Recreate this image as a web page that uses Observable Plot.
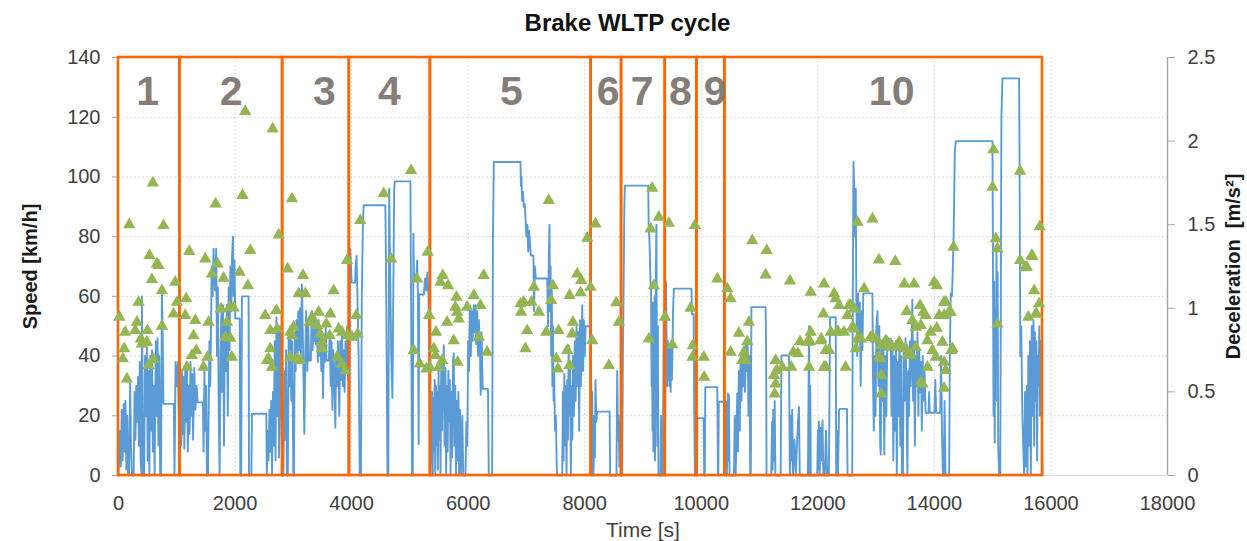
<!DOCTYPE html>
<html><head><meta charset="utf-8">
<script src="https://cdn.jsdelivr.net/npm/d3@7"></script>
<script src="https://cdn.jsdelivr.net/npm/@observablehq/plot@0.6"></script>
<style>
body{margin:0;background:#fff;font-family:"Liberation Sans",Arial,sans-serif;}
#title{height:40px;line-height:46px;text-align:center;font-weight:bold;font-size:24px;color:#111;padding-left:8px;white-space:nowrap;overflow:visible;}
</style></head><body>
<div id="title">Brake WLTP cycle</div>
<div id="chart"></div>
<script>
const timeTicks = [0,2000,4000,6000,8000,10000,12000,14000,16000,18000];
const speedTicks = [0,20,40,60,80,100,120,140];
const decelTicks = [0,0.5,1,1.5,2,2.5];
const decelToSpeed = 140 / 2.5;

const sectionEdges = [0,1054,2816,3961,5352,8110,8632,9382,9925,10405,15855];
const sectionLabels = ["1","2","3","4","5","6","7","8","9","10"];
const labelTimes = [501,1935,3532,4648,6743,8400,8987,9644,10237,13267];

// speed trace [time s, speed km/h]
const speedTrace = [
[0,0],[20,15],[40,3],[55,22],[70,5],[90,24],[105,8],[120,25],[135,2],[150,20],[165,0],[180,0],[200,31],[215,10],[230,0],[260,0],[275,28],[290,12],[305,30],[320,18],[335,33],[350,10],[365,38],[380,5],[395,0],[401,60],[410,40],[420,0],[440,0],[455,40],[470,20],[487,43],[500,5],[515,35],[530,0],[545,40],[560,15],[575,42],[590,8],[605,30],[620,0],[640,45],[655,20],[670,46],[685,10],[700,40],[715,0],[730,0],[745,61],[760,45],[770,24],[950,24],[960,0],[980,38],[1000,30],[1020,38],[1045,0],
[1054,0],[1065,28],[1078,10],[1090,35],[1105,14],[1118,33],[1130,9],[1145,35],[1160,18],[1175,36],[1190,8],[1205,30],[1220,14],[1235,38],[1250,20],[1265,34],[1280,12],[1300,36],[1320,22],[1340,30],[1357,24.5],[1449,24.5],[1460,8],[1475,35],[1490,15],[1505,30],[1518,0],[1535,0],[1560,45],[1575,30],[1600,70],[1615,60],[1631,76],[1655,62],[1677,76],[1690,40],[1705,63],[1720,20],[1735,0],[1750,40],[1765,55],[1780,28],[1795,57],[1810,10],[1825,50],[1840,35],[1861,57],[1875,20],[1890,63],[1905,42],[1920,70],[1935,55],[1950,74],[1964,80],[1975,60],[1990,72],[2004,52.6],[2080,52.6],[2090,0],[2105,0],[2118,60],[2232,60],[2240,0],[2280,0],[2290,20.7],[2536,20.7],[2545,0],[2560,15],[2575,5],[2590,22],[2605,8],[2620,25],[2635,0],[2650,28],[2665,10],[2680,45],[2695,5],[2710,53],[2725,20],[2740,48],[2755,6],[2770,50],[2785,30],[2800,12],[2816,0],
[2830,0],[2845,35],[2860,12],[2875,42],[2890,0],[2905,0],[2920,48],[2935,30],[2950,50],[2965,25],[2980,45],[3000,0],[3010,0],[3025,48],[3040,35],[3055,52],[3070,38],[3085,55],[3100,42],[3115,56],[3130,40],[3148,64],[3165,45],[3189,14],[3205,40],[3220,55],[3240,35],[3255,52],[3270,38.5],[3300,38.5],[3315,55],[3330,42],[3345,54],[3360,45],[3375,53],[3390,44],[3405,50],[3420,38],[3435,52],[3450,40],[3465,48],[3480,35],[3495,47],[3509,26],[3525,45],[3540,38],[3555,50],[3570,38.5],[3610,38.5],[3625,48],[3640,30],[3655,45],[3670,22],[3685,42],[3700,36],[3721,16],[3735,40],[3750,30],[3765,45],[3775,35],[3789,20],[3805,45],[3820,32],[3835,48],[3850,30],[3865,42],[3880,28],[3895,45],[3910,35],[3925,50],[3940,32],[3955,40],[3961,0],
[3975,76],[3990,70],[4000,64.6],[4060,64.6],[4070,70],[4085,73.5],[4100,60],[4120,40],[4140,0],[4160,0],[4175,60],[4195,85],[4207,90.5],[4579,90.5],[4590,70],[4605,30],[4615,0],[4630,0],[4645,96],[4660,70],[4680,40],[4700,26],[4715,60],[4730,95],[4740,98.5],[5009,98.5],[5020,60],[5037,0],[5050,0],[5060,81],[5070,67],[5110,67],[5125,72],[5138,60.6],[5150,10.5],[5160,60.6],[5240,60.6],[5260,66],[5280,62],[5300,68],[5320,60],[5340,20],[5352,0],
[5362,22],[5372,4],[5382,28],[5392,0],[5405,26],[5415,8],[5425,32],[5435,0],[5448,30],[5458,10],[5470,28],[5480,2],[5492,35],[5502,12],[5515,30],[5525,0],[5538,38],[5550,15],[5565,30],[5582,43.6],[5595,10],[5610,36],[5622,0],[5635,30],[5648,8],[5660,35],[5672,18],[5685,32],[5698,0],[5712,28],[5725,6],[5740,38],[5753,41],[5765,10],[5778,30],[5790,0],[5805,25],[5818,5],[5832,28],[5845,0],[5860,22],[5875,0],[5900,20],[5915,0],[5953,0],[5970,18],[5985,10],[6000,45],[6015,35],[6030,57],[6045,40],[6060,55],[6075,45],[6096,57],[6110,48],[6125,57],[6140,44],[6155,55],[6170,40],[6185,52],[6200,44],[6215,27],[6230,48],[6250,29],[6340,29],[6354,0],[6411,0],[6425,80],[6440,105],[6898,105],[6905,97],[6915,100],[6925,92],[6940,95],[6955,90],[6970,91],[6984,86],[7000,80],[7015,84],[7030,75],[7045,82],[7060,78],[7075,73.7],[7120,73.7],[7130,55],[7145,70],[7160,66],[7356,66],[7370,50],[7385,75],[7396,84],[7405,55],[7415,70],[7425,40],[7435,62],[7445,30],[7455,50],[7465,25],[7475,35],[7490,15],[7505,20],[7520,3],[7528,0],[7614,0],[7625,28],[7637,5],[7650,34],[7662,10],[7675,30],[7688,0],[7700,32],[7712,12],[7725,43.6],[7738,20],[7750,38],[7762,0],[7775,30],[7788,12],[7800,40],[7815,20],[7830,45],[7845,25],[7860,50],[7875,30],[7890,48],[7905,15],[7920,52],[7935,30],[7957,57],[7970,35],[7985,52],[8000,40],[8015,50],[8100,50],
[8112,30],[8120,5],[8128,28],[8140,0],[8150,0],[8165,20],[8175,6],[8185,32],[8200,18],[8214,21.4],[8428,21.4],[8435,0],[8545,0],[8557,35],[8570,12],[8582,20],[8595,3],[8610,18],[8625,0],
[8643,0],[8655,40],[8665,58],[8680,90],[8689,97.1],[9090,97.1],[9098,82.6],[9108,80],[9118,74],[9128,65],[9138,62],[9148,30],[9155,55],[9162,15],[9170,58],[9178,8],[9185,50],[9192,20],[9200,60],[9207,5],[9215,45],[9222,70],[9230,84],[9238,40],[9246,10],[9255,50],[9265,0],[9300,0],[9310,20],[9320,0],[9340,0],[9355,55],[9365,30],[9376,0],
[9387,40],[9395,65],[9405,45],[9415,30],[9425,45],[9435,32],[9445,44],[9455,30],[9465,42],[9475,28],[9485,44],[9495,32],[9505,40],[9515,55],[9530,62.6],[9833,62.6],[9840,54],[9870,54],[9880,20],[9890,0],
[9925,0],[9935,19.2],[10040,19.2],[10050,0],[10060,0],[10069,29.6],[10275,29.6],[10285,0],[10292,0],[10300,24.7],
[10405,24.7],[10420,24.7],[10428,0],[10440,0],[10455,27.5],[10465,5],[10474,27],[10485,0],[10560,0],[10575,20],[10590,0],[10617,27.5],[10630,8],[10645,35],[10660,15],[10675,40],[10690,25],[10705,42],[10720,30],[10735,40],[10750,28],[10765,44],[10780,35],[10795,43.6],[10810,20],[10825,40],[10840,0],[10850,0],[10860,56.4],[11104,56.4],[11112,43.6],[11120,0],[11200,0],[11215,18],[11225,2],[11235,22],[11247,5],[11260,25],[11272,0],[11362,0],[11375,40.2],[11505,40.2],[11520,0],[11534,20],[11548,5],[11560,22],[11572,0],[11600,12],[11620,0],[11660,18],[11677,23],[11690,0],[11830,0],[11849,50],[11860,0],[11870,30],[11880,0],[11990,0],[12000,15],[12010,2],[12020,18],[12030,0],[12048,16],[12060,5],[12080,18.5],[12095,0],[12120,0],[12140,15],[12160,0],[12190,0],[12210,53],[12307,53],[12315,0],[12330,15],[12345,0],[12365,22],[12380,22.3],[12500,22.3],[12510,0],[12590,0],[12600,60],[12612,105],[12625,96],[12640,80],[12651,96],[12660,60],[12675,40],[12690,61],[12705,45],[12720,58],[12735,30],[12750,55],[12765,42],[12780,61],[12794,61],[12937,61],[12945,35],[12960,15],[12975,40],[12990,20],[13005,50],[13023,55],[13040,30],[13055,50],[13070,10],[13080,7],[13095,45],[13110,25],[13125,45],[13140,7],[13160,40],[13175,20],[13193,45.8],[13250,45.8],[13265,20],[13280,45],[13295,5],[13310,40],[13325,15],[13340,45],[13355,0],[13370,38],[13385,20],[13400,46],[13415,10],[13430,40],[13445,0],[13460,0],[13475,42],[13490,25],[13505,46],[13520,30],[13537,0],[13550,35],[13565,20],[13580,45],[13595,30],[13622,59],[13635,25],[13650,45],[13665,10],[13680,40],[13695,30],[13710,48],[13725,20],[13740,42],[13755,28],[13770,38],[13785,15],[13800,40],[13815,25],[13830,35],[13850,21],[13900,21],[13910,28],[13920,21],[14000,21],[14015,32],[14030,21],[14100,21],[14115,40],[14130,15],[14145,0],[14160,0],[14175,25],[14190,0],[14253,0],[14265,40],[14280,61],[14300,60],[14310,64.7],[14330,80],[14350,108],[14367,112],[14997,112],[15005,70],[15015,20],[15025,65],[15035,11],[15045,55],[15055,25],[15065,75],[15075,40],[15085,68],[15095,10],[15111,0],[15130,0],[15150,120],[15168,133],[15454,133],[15460,110],[15475,40],[15490,50],[15510,20],[15540,0],[15555,28],[15570,3],[15585,30],[15598,0],[15612,40],[15625,10],[15640,45],[15655,0],[15670,50],[15685,20],[15700,52],[15712,10],[15725,48],[15738,25],[15750,45],[15762,5],[15775,40],[15788,30],[15800,50],[15812,20],[15825,45],[15840,30],[15855,0]
];

// braking events [time s, deceleration m/s²]
const decelPoints = [
[17,0.947],[75,0.698],[98,0.758],[115,0.857],[144,0.578],[184,1.50],[287,0.867],[316,0.917],[344,1.036],[384,0.817],[401,0.787],[487,0.797],[498,0.867],[515,0.658],[532,1.316],[573,1.172],[590,1.75],[601,0.694],[659,1.266],[687,1.256],[745,1.106],[745,0.893],[773,1.495],[944,0.967],[973,1.156],[1002,1.036],
[1145,0.957],[1162,1.057],[1174,0.648],[1214,1.340],[1260,0.718],[1288,0.837],[1317,0.927],[1334,0.748],[1460,0.648],[1489,1.296],[1529,0.708],[1546,0.917],[1603,1.206],[1666,1.625],[1700,1.266],[1757,0.997],[1803,1.180],[1832,0.827],[1861,0.917],[1906,1.007],[1918,0.821],[1946,0.708],[1975,1.002],[2078,1.216],[2129,1.675],[2175,2.177],[2221,1.136],[2261,1.346],[2518,0.957],[2548,0.688],[2575,0.698],[2604,0.867],[2604,0.758],[2633,0.648],[2644,2.073],[2708,0.987],[2720,0.877],[2748,1.439],
[2902,1.236],[2948,0.857],[2948,0.708],[2977,1.655],[2977,0.837],[3005,0.887],[3063,0.698],[3091,1.087],[3120,0.688],[3166,1.196],[3206,1.087],[3280,0.917],[3320,0.947],[3406,0.897],[3435,0.977],[3463,0.847],[3492,0.797],[3492,0.758],[3566,0.907],[3624,0.837],[3635,0.967],[3692,1.106],[3750,0.708],[3778,0.877],[3835,0.857],[3835,0.668],[3893,0.628],[3921,1.286],[3933,0.837],
[4006,0.827],[4081,0.957],[4104,0.847],[4150,1.525],[4550,1.685],[4677,1.296],[5020,1.824],[5066,0.748],[5123,1.176],[5169,0.668],[5283,0.638],[5306,1.336],[5330,0.957],[5340,0.648],
[5410,0.758],[5438,0.718],[5449,0.857],[5496,0.648],[5524,1.156],[5553,0.688],[5563,1.196],[5639,0.917],[5656,1.136],[5753,0.807],[5781,1.007],[5799,1.067],[5810,0.977],[5819,0.678],[5839,0.937],[5982,1.007],[6096,1.077],[6182,0.827],[6211,1.017],[6267,1.196],[6325,0.738],[6897,1.027],[6908,0.977],[6954,1.037],[6983,0.758],[7012,0.867],[7088,1.037],[7127,1.126],[7213,0.977],[7340,0.857],[7383,1.645],[7425,1.047],[7454,1.136],[7512,0.698],[7540,0.638],[7551,0.867],[7700,0.748],[7740,1.077],[7740,0.658],[7785,0.847],[7797,0.917],[7871,1.206],[7928,1.093],[7940,1.166],[8043,1.419],
[8099,1.126],[8128,0.807],[8185,1.505],[8414,0.658],[8540,1.033],[8586,0.917],
[9101,0.817],[9130,1.475],[9158,1.718],[9187,1.136],[9272,1.545],[9376,0.947],
[9444,1.509],[9502,0.782],[9816,1.001],[9850,0.708],[9856,0.777],[9890,1.495],
[10044,0.708],[10050,0.588],[10275,1.176],
[10446,1.117],[10503,1.057],[10503,0.738],[10646,0.851],[10703,0.688],[10732,0.738],[10761,0.688],[10789,0.801],[10818,0.917],[10875,1.405],[11104,1.200],[11122,1.346],[11247,0.598],[11259,0.488],[11276,0.688],[11276,0.548],[11293,0.628],[11391,0.648],[11522,1.164],[11545,0.648],[11580,0.738],[11660,0.728],[11694,0.801],[11820,0.797],[11849,0.648],[11866,0.801],[11877,1.096],[11877,0.857],[12048,0.807],[12062,0.817],[12096,0.967],[12107,1.146],[12105,0.648],[12134,0.748],[12136,0.648],[12193,0.748],[12222,0.857],[12279,1.087],[12307,1.057],[12334,0.857],[12348,0.861],[12365,1.017],[12448,0.857],[12477,0.648],[12508,0.957],[12536,1.017],[12565,1.017],[12592,0.887],[12622,0.997],[12622,0.877],[12649,0.758],[12680,1.515],[12680,0.817],[12737,0.817],[12794,1.117],[12906,0.827],[12937,1.535],[12937,0.827],[12994,0.817],[13049,1.290],[13049,0.708],[13079,0.778],[13080,0.698],[13091,0.598],[13091,0.488],[13165,0.807],[13193,0.797],[13222,0.767],[13251,0.778],[13330,1.280],[13336,0.767],[13394,0.797],[13422,0.778],[13485,1.146],[13508,0.758],[13525,0.981],[13537,0.718],[13594,0.718],[13622,0.927],[13651,1.146],[13680,0.767],[13680,0.887],[13754,1.017],[13766,0.897],[13766,0.558],[13794,0.548],[13811,0.977],[13851,0.957],[13880,0.807],[13880,0.648],[13937,0.857],[13966,0.748],[13995,1.156],[14024,0.708],[14041,1.136],[14041,0.881],[14081,0.957],[14138,0.797],[14167,1.036],[14167,0.957],[14167,0.678],[14167,0.522],[14195,0.628],[14195,1.037],[14253,0.977],[14281,0.977],[14293,0.748],[14310,0.758],[14327,1.366],[14997,1.724],[15014,1.948],[15054,1.416],[15082,1.356],[15082,0.907],[15470,1.820],[15471,1.286],[15557,1.246],[15585,1.246],[15612,0.947],[15671,1.316],[15683,1.310],[15712,1.106],[15740,0.967],[15754,0.967],[15797,1.027],[15808,1.488]
];

const sections = sectionLabels.map((s, i) => ({label: s, x1: sectionEdges[i], x2: sectionEdges[i + 1]}));
const grey = "#404040";
const fmtInt = d => String(d);

const chart = Plot.plot({
  width: 1247, height: 501,
  marginLeft: 118, marginRight: 80, marginTop: 17, marginBottom: 66,
  style: {fontFamily: "'Liberation Sans', Arial, sans-serif", fontSize: "20px", color: grey, background: "white", overflow: "visible"},
  x: {domain: [0, 18000]},
  y: {domain: [0, 140]},
  marks: [
    Plot.gridY(speedTicks.filter(v => v > 0 && v < 140), {stroke: "#cfcfcf", strokeOpacity: 1, strokeDasharray: "1.5,2.5"}),
    Plot.gridX(timeTicks.filter(v => v > 0 && v < 18000), {stroke: "#cfcfcf", strokeOpacity: 1, strokeDasharray: "1.5,2.5"}),
    Plot.ruleY([0], {stroke: "#d9d9d9"}),
    Plot.ruleX([18000], {stroke: "#a6a6a6", strokeWidth: 1.5}),
    Plot.axisX({ticks: timeTicks, tickSize: 0, tickPadding: 20, tickFormat: fmtInt, label: null, fill: grey, fontSize: 20}),
    Plot.axisY({anchor: "left", ticks: speedTicks, tickSize: 6, tickPadding: 12, tickFormat: fmtInt, label: null, stroke: "#a6a6a6", fill: grey, fontSize: 20}),
    Plot.axisY({anchor: "right", ticks: decelTicks.map(d => d * decelToSpeed), tickSize: 7, tickPadding: 13,
      tickFormat: v => String(+(v / decelToSpeed).toFixed(1)), label: null, stroke: "#a6a6a6", fill: grey, fontSize: 20}),
    Plot.line(speedTrace, {x: d => d[0], y: d => d[1], stroke: "#5b9bd5", strokeWidth: 1.9}),
    Plot.rect(sections, {x1: "x1", x2: "x2", y1: 0, y2: 140, fill: "none", stroke: "#ff6600", strokeWidth: 2.6}),
    Plot.dot(decelPoints, {x: d => d[0], y: d => d[1] * decelToSpeed, symbol: "triangle", r: 4.6, fill: "#93b552", stroke: "none"}),
    Plot.text(sectionLabels, {x: (d, i) => labelTimes[i], frameAnchor: "top", dy: 34, lineAnchor: "middle", textAnchor: "middle", fontSize: 41, fontWeight: "bold", fill: "#877d78"}),
    Plot.text(["Time [s]"], {frameAnchor: "bottom", dy: 55, lineAnchor: "middle", textAnchor: "middle", fontSize: 21, fill: grey}),
    Plot.text(["Speed [km/h]"], {frameAnchor: "left", dx: -88, rotate: -90, lineAnchor: "middle", textAnchor: "middle", fontSize: 20, fontWeight: "bold", fill: "#1a1a1a"}),
    Plot.text(["Deceleration\u00a0 [m/s²]"], {frameAnchor: "right", dx: 66, rotate: -90, lineAnchor: "middle", textAnchor: "middle", fontSize: 20, fontWeight: "bold", fill: "#1a1a1a"})
  ]
});
document.getElementById("chart").appendChild(chart);
</script>
</body></html>
